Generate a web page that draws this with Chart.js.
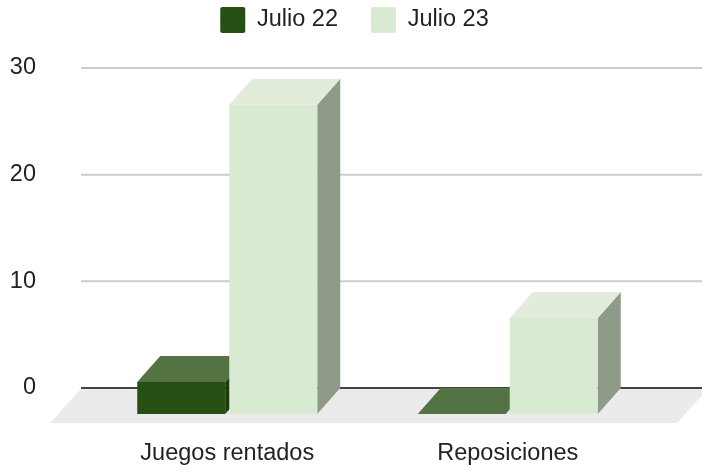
<!DOCTYPE html>
<html>
<head>
<meta charset="utf-8">
<title>Julio 22 / Julio 23</title>
<script src="https://cdn.jsdelivr.net/npm/chart.js@4"></script>
<style>
  body { margin: 0; background: #fff; }
  canvas { display: block; }
</style>
</head>
<body>
<canvas id="rentalsChart" width="702" height="469"></canvas>
<script>
const categories = ['Juegos rentados', 'Reposiciones'];
const seriesNames = ['Julio 22', 'Julio 23'];
const julio22 = [3, 0];
const julio23 = [29, 9];
const yTicks = [0, 10, 20, 30];

// colours of the 3D faces: [front, top, side]
const darkFaces = ['#274e13', '#537343', '#1b3a0d'];
const lightFaces = ['#d9ead3', '#e1edda', '#8e9b88'];
const depthX = 23;
const depthY = 26;

// Legend takes the whole strip above the plot
const legendSpace = {
  id: 'legendSpace',
  beforeInit(chart) {
    const fit = chart.legend.fit;
    chart.legend.fit = function () {
      fit.call(this);
      this.height = 68;
    };
  },
  afterLayout(chart) {
    chart.legend.top = -26;
    // y labels sit far left of the axis box and get clipped to it otherwise
    chart.scales.y.left = 0;
  },
};

// Floor, gridlines and the top/side of each bar
const depthBars = {
  id: 'depthBars',
  beforeDatasetsDraw(chart) {
    const ctx = chart.ctx;
    const y = chart.scales.y;
    const zero = y.getPixelForValue(0);

    ctx.save();
    ctx.fillStyle = '#ebebeb';
    ctx.beginPath();
    ctx.moveTo(50, zero + 35);
    ctx.lineTo(81, zero + 1);
    ctx.lineTo(708, zero + 1);
    ctx.lineTo(677, zero + 35);
    ctx.closePath();
    ctx.fill();

    yTicks.forEach((tick) => {
      const py = y.getPixelForValue(tick);
      ctx.strokeStyle = tick === 0 ? '#444444' : '#cccccc';
      ctx.lineWidth = 2;
      ctx.beginPath();
      ctx.moveTo(81, py);
      ctx.lineTo(702, py);
      ctx.stroke();
    });

    chart.data.datasets.forEach((dataset, index) => {
      const faces = index === 0 ? darkFaces : lightFaces;
      chart.getDatasetMeta(index).data.forEach((bar) => {
        const left = bar.x - bar.width / 2;
        const right = bar.x + bar.width / 2;
        const top = bar.y + depthY;
        const bottom = bar.base + depthY;

        ctx.fillStyle = faces[2];
        ctx.beginPath();
        ctx.moveTo(right, bottom);
        ctx.lineTo(right + depthX, bottom - depthY);
        ctx.lineTo(right + depthX, top - depthY);
        ctx.lineTo(right, top);
        ctx.closePath();
        ctx.fill();

        ctx.fillStyle = faces[1];
        ctx.beginPath();
        ctx.moveTo(left, top);
        ctx.lineTo(left + depthX, top - depthY);
        ctx.lineTo(right + depthX, top - depthY);
        ctx.lineTo(right, top);
        ctx.closePath();
        ctx.fill();
      });
    });
    ctx.restore();
  },
  // the bars themselves are the front faces, pushed forward by the depth
  beforeDatasetDraw(chart) {
    chart.ctx.save();
    chart.ctx.translate(0, depthY);
  },
  afterDatasetDraw(chart) {
    chart.ctx.restore();
  },
};

const createRentalsChart = () => {
  const ctx = document.getElementById('rentalsChart').getContext('2d');
  new Chart(ctx, {
    type: 'bar',
    data: {
      labels: categories,
      datasets: [
        { label: seriesNames[0], data: julio22, backgroundColor: darkFaces[0], clip: false },
        { label: seriesNames[1], data: julio23, backgroundColor: lightFaces[0], clip: false },
      ],
    },
    options: {
      responsive: false,
      animation: false,
      categoryPercentage: 0.656,
      barPercentage: 0.9565,
      layout: { padding: { left: 61, right: 54, top: 0, bottom: 0 } },
      plugins: {
        tooltip: { enabled: false },
        legend: {
          position: 'top',
          labels: {
            boxWidth: 25,
            boxHeight: 26,
            useBorderRadius: true,
            borderRadius: 2,
            padding: 33,
            color: '#222222',
            font: { family: '"Liberation Sans"', size: 23.5 },
          },
        },
      },
      scales: {
        x: {
          grid: { display: false },
          border: { display: false },
          ticks: {
            padding: 43,
            color: '#222222',
            maxRotation: 0,
            autoSkip: false,
            font: { family: '"Liberation Sans"', size: 23.5 },
          },
          afterFit(scale) { scale.height = 81; },
        },
        y: {
          min: 0,
          max: 30,
          grid: { display: false, drawTicks: false },
          border: { display: false },
          afterBuildTicks(scale) { scale.ticks = yTicks.map((value) => ({ value })); },
          ticks: {
            padding: 51,
            color: '#222222',
            font: { family: '"Liberation Sans"', size: 23.5 },
          },
          afterFit(scale) { scale.width = 26; },
        },
      },
    },
    plugins: [legendSpace, depthBars],
  });
};

createRentalsChart();
</script>
</body>
</html>
